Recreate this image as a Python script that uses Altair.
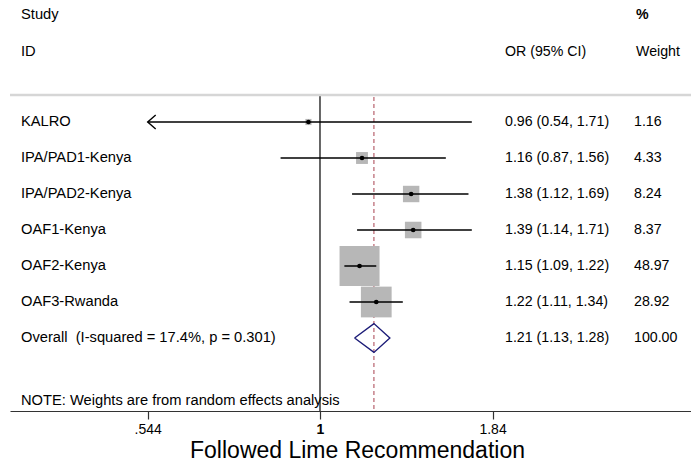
import altair as alt
import pandas as pd

# ---- data ----
studies = ["KALRO", "IPA/PAD1-Kenya", "IPA/PAD2-Kenya", "OAF1-Kenya", "OAF2-Kenya", "OAF3-Rwanda"]
or_est = [0.96, 1.16, 1.38, 1.39, 1.15, 1.22]
ci_lo = [0.54, 0.87, 1.12, 1.14, 1.09, 1.11]
ci_hi = [1.71, 1.56, 1.69, 1.71, 1.22, 1.34]
weights = [1.16, 4.33, 8.24, 8.37, 48.97, 28.92]

overall_label = "Overall\u00a0 (I-squared = 17.4%, p = 0.301)"
overall_est = 1.21
overall_lo = 1.13
overall_hi = 1.28
overall_weight = 100.00

tick_values = [0.544, 1, 1.84]
tick_labels = [".544", "1", "1.84"]
x_title = "Followed Lime Recommendation"
note = "NOTE: Weights are from random effects analysis"

FONT = "Liberation Sans"
W, H = 681, 411
x_min, x_max = 0.3344, 3.710
axis_min = tick_values[0]

n = len(studies)
df = pd.DataFrame({
    "study": studies, "est": or_est, "lo": ci_lo, "hi": ci_hi, "w": weights,
    "row": list(range(n)),
})
df["lo_clip"] = [max(v, axis_min) for v in df["lo"]]
df["ortext"] = [f"{e:.2f} ({l:.2f}, {h:.2f})" for e, l, h in zip(or_est, ci_lo, ci_hi)]
df["wtext"] = [f"{w:.2f}" for w in weights]
arrows = df[df["lo"] < axis_min]

ov_row = n
ov = pd.DataFrame({
    "study": [overall_label], "est": [overall_est], "lo": [overall_lo], "hi": [overall_hi],
    "row": [ov_row],
    "ortext": [f"{overall_est:.2f} ({overall_lo:.2f}, {overall_hi:.2f})"],
    "wtext": [f"{overall_weight:.2f}"],
})
labels_all = pd.concat([df[["study", "row", "ortext", "wtext"]], ov[["study", "row", "ortext", "wtext"]]])

h = 0.40
diamond = pd.DataFrame({
    "x": [overall_lo, overall_est, overall_hi, overall_est, overall_lo],
    "row": [ov_row, ov_row - h, ov_row, ov_row + h, ov_row],
    "ord": [0, 1, 2, 3, 4],
})

xscale = alt.Scale(type="log", domain=[x_min, x_max], nice=False, zero=False)
yscale = alt.Scale(domain=[-122 / 36, (H - 122) / 36], reverse=True, nice=False, zero=False)

label_expr = " : ".join(
    f"datum.value == {v} ? '{l}'" for v, l in zip(tick_values, tick_labels)
) + " : ''"

x_axis = alt.Axis(
    values=tick_values, labelExpr=label_expr, title=x_title,
    grid=False, domainColor="#333333", domainWidth=1.2, tickColor="#333333",
    tickWidth=1.2, tickSize=8, labelFontSize=14, labelFont=FONT, labelColor="black",
    labelPadding=3,
    labelFontWeight={"condition": {"test": "datum.value == 1", "value": "bold"}, "value": "normal"},
    titleFont=FONT, titleFontSize=23, titleFontWeight="normal", titleColor="black",
    titlePadding=3, titleX=347, titleAlign="center",
)

def X(field):
    return alt.X(field, type="quantitative", scale=xscale, axis=x_axis)

Y = alt.Y("row:Q", scale=yscale, axis=None)

vline = alt.Chart(pd.DataFrame({"v": [1.0]})).mark_rule(
    color="black", strokeWidth=1.2
).encode(x=X("v"), y=alt.value(95), y2=alt.value(H))

sep = alt.Chart(pd.DataFrame({"a": [0]})).mark_rule(color="#d6d6d6", strokeWidth=2.5).encode(
    x=alt.value(0), x2=alt.value(W), y=alt.value(95)
)

dashed = alt.Chart(pd.DataFrame({"v": [overall_est]})).mark_rule(
    color="#a8404f", strokeWidth=1, strokeDash=[4, 3]
).encode(x=X("v"), y=alt.value(97), y2=alt.value(H))

boxes = alt.Chart(df).mark_square(color="#b7b7b7", opacity=1).encode(
    x=X("est"), y=Y,
    size=alt.Size("w:Q", scale=alt.Scale(type="linear", domain=[0, max(weights)], range=[0, 1600], zero=True), legend=None),
)

ci = alt.Chart(df).mark_rule(color="black", strokeWidth=1.5).encode(
    x=X("lo_clip"), x2="hi:Q", y=Y
)

arrow = alt.Chart(arrows).mark_point(
    shape="M1.14,-1L0,0L1.14,1", filled=False, color="black", strokeWidth=1.4, size=196, opacity=1
).encode(x=X("lo_clip"), y=Y)

dots = alt.Chart(df).mark_point(shape="circle", filled=True, color="black", size=22, opacity=1).encode(
    x=X("est"), y=Y
)

dia = alt.Chart(diamond).mark_line(color="#1c1c78", strokeWidth=1.4).encode(
    x=X("x"), y=alt.Y("row:Q", scale=yscale, axis=None), order="ord:Q"
)

lab_kw = dict(font=FONT, fontSize=14.7, color="black", baseline="middle", align="left")
num_kw = dict(font=FONT, fontSize=14.2, color="black", baseline="middle", align="left")

left_txt = alt.Chart(labels_all).mark_text(**lab_kw).encode(
    x=alt.value(11), y=Y, text="study:N"
)
or_txt = alt.Chart(labels_all).mark_text(**num_kw).encode(
    x=alt.value(495), y=Y, text="ortext:N"
)
w_txt = alt.Chart(labels_all).mark_text(**num_kw).encode(
    x=alt.value(624), y=Y, text="wtext:N"
)

def header(text, x, y, kw, weight="normal"):
    return alt.Chart(pd.DataFrame({"t": [text]})).mark_text(fontWeight=weight, **kw).encode(
        x=alt.value(x), y=alt.value(y), text="t:N"
    )

headers = [
    header("Study", 11, 15, lab_kw), header("ID", 11, 52, lab_kw),
    header("OR (95% CI)", 495, 52, num_kw), header("%", 626, 15, num_kw, "bold"),
    header("Weight", 626, 52, num_kw),
    header(note, 11, 401, lab_kw),
]

chart = alt.layer(
    vline, sep, dashed, boxes, ci, arrow, dots, dia, left_txt, or_txt, w_txt, *headers
).properties(
    width=W, height=H,
    autosize=alt.AutoSizeParams(type="none"),
    padding={"left": 10, "right": 0, "top": 0, "bottom": 469 - H},
    background="white",
).configure_view(stroke=None)

chart.save("out.html", embed_options={"renderer": "svg", "actions": False})
